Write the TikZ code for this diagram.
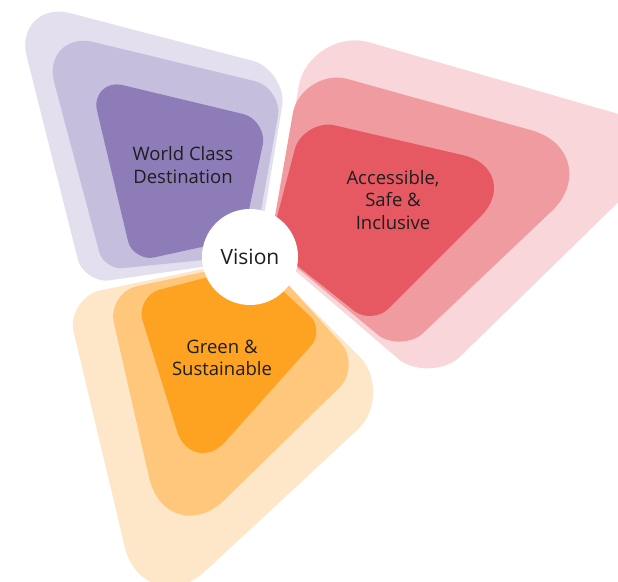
\documentclass[tikz,border=0pt]{standalone}
\usepackage{fontspec}
\setmainfont{Open Sans}
\usetikzlibrary{calc}
\definecolor{pu1}{HTML}{E3DFEE}
\definecolor{pu2}{HTML}{C6BEDD}
\definecolor{pu3}{HTML}{8E7CB9}
\definecolor{re1}{HTML}{F8D6D9}
\definecolor{re2}{HTML}{F09BA0}
\definecolor{re3}{HTML}{E65962}
\definecolor{or1}{HTML}{FEE7C8}
\definecolor{or2}{HTML}{FEC77B}
\definecolor{or3}{HTML}{FDA321}
\definecolor{txt}{HTML}{1E1E1E}
% rounded quadrilateral: colour, then vertex/radius pairs
\newcommand\rquad[9]{%
  \fill[#1]
   ($(#2)!#3*1pt!(#4)$)
   -- ($(#4)!#5*1pt!(#2)$)
   .. controls ($(#4)!#5*0.5pt!(#2)$) and ($(#4)!#5*0.5pt!(#6)$) .. ($(#4)!#5*1pt!(#6)$)
   -- ($(#6)!#7*1pt!(#4)$)
   .. controls ($(#6)!#7*0.5pt!(#4)$) and ($(#6)!#7*0.5pt!(#8)$) .. ($(#6)!#7*1pt!(#8)$)
   -- ($(#8)!#9*1pt!(#6)$)
   .. controls ($(#8)!#9*0.5pt!(#6)$) and ($(#8)!#9*0.5pt!(#2)$) .. ($(#8)!#9*1pt!(#2)$)
   -- ($(#2)!#3*1pt!(#8)$)
   .. controls ($(#2)!#3*0.5pt!(#8)$) and ($(#2)!#3*0.5pt!(#4)$) .. ($(#2)!#3*1pt!(#4)$)
   -- cycle;}
\tikzset{
  lbl/.style={text=txt, align=center, font=\fontsize{18.5}{22.5}\selectfont},
  hub/.style={circle, fill=white, minimum size=96pt, inner sep=0pt, text=txt, font=\fontsize{21}{24}\selectfont}
}
\begin{document}
\begin{tikzpicture}[x=1pt,y=-1pt]
\useasboundingbox (0,0) rectangle (618,581);
\clip (0,0) rectangle (618,581);
% purple
\coordinate (pa1) at (12,-2);   \coordinate (pb1) at (288,70);  \coordinate (pc1) at (257,259); \coordinate (pd1) at (84,284);
\coordinate (pa2) at (40,29);   \coordinate (pb2) at (283,88);  \coordinate (pc2) at (253,255); \coordinate (pd2) at (104,270);
\coordinate (pa3) at (89,77);   \coordinate (pb3) at (268,120); \coordinate (pc3) at (243,238); \coordinate (pd3) at (133,262);
\rquad{pu1}{pa1}{60}{pb1}{36}{pc1}{20}{pd1}{25}
\rquad{pu2}{pa2}{55}{pb2}{28}{pc2}{20}{pd2}{18}
\rquad{pu3}{pa3}{35}{pb3}{25}{pc3}{15}{pd3}{21}
% red
\coordinate (ra1) at (309,25);  \coordinate (rb1) at (688,134); \coordinate (rc1) at (430,386); \coordinate (rd1) at (271,250);
\coordinate (ra2) at (301,66);  \coordinate (rb2) at (613,153); \coordinate (rc2) at (401,354); \coordinate (rd2) at (270,245);
\coordinate (ra3) at (303,118); \coordinate (rb3) at (527,170); \coordinate (rc3) at (372,325); \coordinate (rd3) at (270,244);
\rquad{re1}{ra1}{62}{rb1}{60}{rc1}{42}{rd1}{15}
\rquad{re2}{ra2}{48}{rb2}{85}{rc2}{30}{rd2}{15}
\rquad{re3}{ra3}{32}{rb3}{65}{rc3}{22}{rd3}{12}
% orange
\coordinate (oa1) at (65.5,297.7); \coordinate (ob1) at (144,628); \coordinate (oc1) at (396.5,393.5); \coordinate (od1) at (260,257);
\coordinate (oa2) at (107,292.5);  \coordinate (ob2) at (167,556); \coordinate (oc2) at (361.5,366);   \coordinate (od2) at (265,259);
\coordinate (oa3) at (135,296);    \coordinate (ob3) at (192,479); \coordinate (oc3) at (325,330);     \coordinate (od3) at (255,265);
\rquad{or1}{oa1}{35}{ob1}{84}{oc1}{52}{od1}{15}
\rquad{or2}{oa2}{30}{ob2}{80}{oc2}{30}{od2}{15}
\rquad{or3}{oa3}{25}{ob3}{50}{oc3}{20}{od3}{12}
% labels
\node[hub] (vision) at (250,257) {Vision};
\node[lbl] (world) at (183,165) {World Class\\Destination};
\node[lbl] (access) at (393,200) {Accessible,\\Safe \&\\Inclusive};
\node[lbl] (green) at (222,358) {Green \&\\Sustainable};
\end{tikzpicture}
\end{document}
